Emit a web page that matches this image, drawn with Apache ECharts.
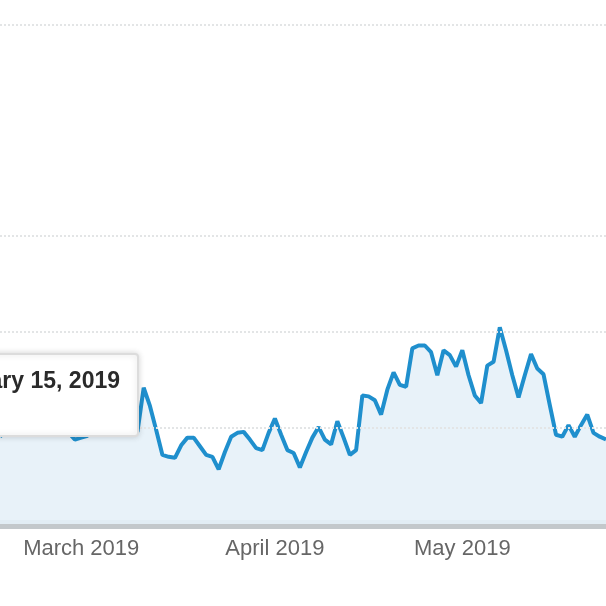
<!DOCTYPE html>
<html>
<head>
<meta charset="utf-8">
<script src="https://cdn.jsdelivr.net/npm/echarts@6/dist/echarts.min.js"></script>
<style>
html,body{margin:0;padding:0;background:#fff;}
#chart{width:606px;height:606px;}
</style>
</head>
<body>
<div id="chart"></div>
<script>
// Daily sessions, 2019-02-16 .. 2019-05-24
const startDate = '2019-02-16';
const sessions = [
  91, 98, 114, 124, 108, 119, 129, 114, 103, 110, 100, 95, 88,
  90, 92, 108, 119, 114, 124, 108, 117, 103, 96, 142, 123, 98, 72,
  70, 69, 82, 90, 90, 81, 72, 70, 57, 75, 91, 95, 96, 88, 79, 77, 95,
  110, 93, 77, 74, 59, 75, 90, 101, 88, 83, 107, 90, 72, 77, 134, 133, 129, 114, 140, 158, 145, 143, 183, 186, 186, 179, 155, 181, 176, 164,
  181, 155, 134, 126, 165, 169, 205, 181, 155, 132, 155, 177, 162, 156, 124, 93, 91, 103, 91, 103, 114, 95, 91, 88
];
const gridValues = [100, 200, 300, 520];
const monthNames = ['January','February','March','April','May','June','July','August','September','October','November','December'];
const tooltipDate = 'February 15, 2019';

const dates = [];
(function(){
  const d0 = new Date(startDate + 'T00:00:00Z');
  for (let i = 0; i < sessions.length; i++) {
    const d = new Date(d0.getTime() + i * 86400000);
    dates.push(d.toISOString().slice(0, 10));
  }
})();

const chart = echarts.init(document.getElementById('chart'), null, {renderer: 'canvas'});
chart.setOption({
  animation: false,
  backgroundColor: '#ffffff',
  grid: {left: -3, right: -2, top: 25, bottom: 82, containLabel: false},
  xAxis: {
    type: 'category',
    data: dates,
    boundaryGap: false,
    axisLine: {show: true, lineStyle: {color: '#c3c8cb', width: 9}},
    axisTick: {show: false},
    splitLine: {show: false},
    axisLabel: {
      interval: function(idx, val){ return val.slice(8) === '01'; },
      formatter: function(val){ return monthNames[parseInt(val.slice(5,7),10)-1] + ' ' + val.slice(0,4); },
      color: '#666',
      fontFamily: 'Liberation Sans, Arial, sans-serif',
      fontSize: 22,
      margin: 14
    }
  },
  yAxis: {
    type: 'value',
    min: 0,
    max: 520,
    axisLine: {show: false},
    axisTick: {show: false},
    axisLabel: {show: false},
    splitLine: {show: false}
  },
  series: [
    {
      type: 'line',
      data: sessions,
      symbol: 'none',
      smooth: false,
      lineStyle: {color: '#1f8fcd', width: 4},
      areaStyle: {color: '#e6f1f8', opacity: 0.9},
      z: 3
    },
    {
      type: 'line',
      data: [],
      silent: true,
      z: 1,
      markLine: {
        silent: true,
        symbol: 'none',
        label: {show: false},
        lineStyle: {color: '#e3e5e6', type: 'dotted', width: 2},
        data: gridValues.map(v => ({yAxis: v}))
      }
    }
  ],
  graphic: [
    {
      type: 'rect',
      z: 100,
      shape: {x: -20, y: 354, width: 158, height: 82, r: 3},
      style: {fill: '#ffffff', stroke: '#dcdcdc', lineWidth: 2, shadowBlur: 6, shadowColor: 'rgba(0,0,0,0.15)'}
    },
    {
      type: 'text',
      z: 101,
      style: {
        x: 120, y: 382,
        text: tooltipDate,
        textAlign: 'right',
        textVerticalAlign: 'middle',
        fill: '#2a2a2a',
        font: 'bold 23px Liberation Sans, Arial, sans-serif'
      }
    }
  ]
});
</script>
</body>
</html>
